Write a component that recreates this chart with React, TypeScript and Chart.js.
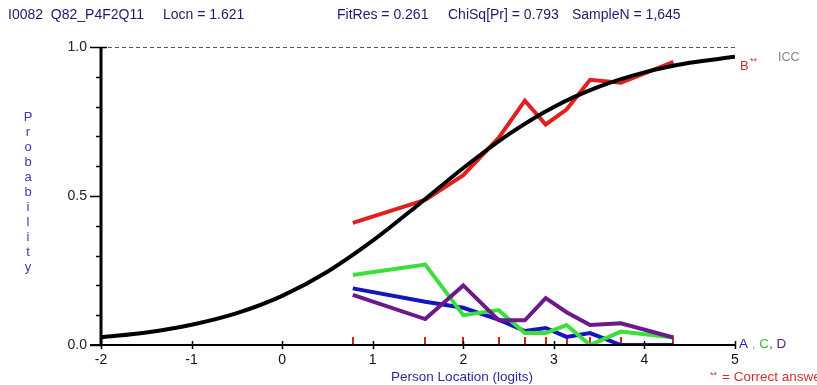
import React, { useEffect, useRef } from "react";
import { Chart, registerables } from "chart.js";

Chart.register(...registerables);

// Class interval mean locations (logits)
const classLocations = [0.78, 1.58, 2.0, 2.39, 2.68, 2.91, 3.14, 3.4, 3.74, 4.32];
// Observed proportions per option
const optionA = [0.19, 0.145, 0.125, 0.085, 0.047, 0.057, 0.027, 0.04, 0.0, 0.0];
const optionB = [0.41, 0.487, 0.57, 0.695, 0.82, 0.74, 0.79, 0.89, 0.88, 0.95];
const optionC = [0.235, 0.27, 0.1, 0.117, 0.04, 0.04, 0.067, 0.0, 0.045, 0.025];
const optionD = [0.168, 0.087, 0.2, 0.083, 0.083, 0.157, 0.11, 0.067, 0.073, 0.025];
// ICC
const iccLocations = [-2, -1.5, -1, -0.5, 0, 0.5, 1, 1.5, 2, 2.5, 3, 3.5, 4, 4.5, 5];
const iccValues = [0.026, 0.042, 0.068, 0.107, 0.165, 0.246, 0.35, 0.47, 0.594, 0.707, 0.799, 0.867, 0.915, 0.947, 0.967];
const xTickValues = [-2, -1, 0, 1, 2, 3, 4, 5];
const yLabelValues = [0, 0.5, 1];

const FONT = "'Liberation Sans', Arial, sans-serif";

function pts(xs: number[], ys: number[]) {
  return xs.map((x, i) => ({ x, y: ys[i] }));
}

const overlay = {
  id: "overlay",
  beforeDatasetsDraw(chart: any) {
    const { ctx, chartArea } = chart;
    const xs = chart.scales.x;
    const ys = chart.scales.y;
    ctx.save();
    // dashed line at 1.0
    ctx.strokeStyle = "#555";
    ctx.lineWidth = 1;
    ctx.setLineDash([4, 3]);
    ctx.beginPath();
    const y1 = ys.getPixelForValue(1);
    ctx.moveTo(chartArea.left, y1 + 0.5);
    ctx.lineTo(xs.getPixelForValue(5), y1 + 0.5);
    ctx.stroke();
    ctx.setLineDash([]);
    // red class ticks
    ctx.strokeStyle = "#d02020";
    ctx.lineWidth = 2;
    const y0 = ys.getPixelForValue(0);
    classLocations.forEach((v) => {
      const px = Math.round(xs.getPixelForValue(v));
      ctx.beginPath();
      ctx.moveTo(px, y0 - 8);
      ctx.lineTo(px, y0);
      ctx.stroke();
    });
    ctx.restore();
  },
  afterDraw(chart: any) {
    const { ctx, chartArea } = chart;
    const xs = chart.scales.x;
    const ys = chart.scales.y;
    ctx.save();
    const y0 = ys.getPixelForValue(0);
    const y1 = ys.getPixelForValue(1);
    // axes
    ctx.strokeStyle = "#000";
    ctx.lineWidth = 3;
    ctx.beginPath();
    ctx.moveTo(chartArea.left, y1);
    ctx.lineTo(chartArea.left, y0);
    ctx.stroke();
    ctx.lineWidth = 2;
    ctx.beginPath();
    ctx.moveTo(chartArea.left - 11, y0);
    ctx.lineTo(xs.getPixelForValue(5), y0);
    ctx.stroke();
    // y ticks
    ctx.lineWidth = 1.5;
    for (let i = 0; i <= 10; i++) {
      const v = i / 10;
      const py = Math.round(ys.getPixelForValue(v)) + 0.5;
      const major = i % 5 === 0;
      ctx.beginPath();
      ctx.moveTo(chartArea.left - (major ? 11 : 5), py);
      ctx.lineTo(chartArea.left + (i === 10 ? 6 : 0), py);
      ctx.stroke();
    }
    // x ticks crossing axis
    xTickValues.forEach((v) => {
      const px = Math.round(xs.getPixelForValue(v)) + 0.5;
      ctx.beginPath();
      ctx.moveTo(px, y0 - 4);
      ctx.lineTo(px, y0 + 4);
      ctx.stroke();
    });
    // header
    ctx.textBaseline = "middle";
    ctx.textAlign = "left";
    ctx.font = `14px ${FONT}`;
    ctx.fillStyle = "#1c1c6a";
    ctx.fillText("I0082  Q82_P4F2Q11", 8, 15);
    ctx.fillText("Locn = 1.621", 163, 15);
    ctx.fillText("FitRes = 0.261", 337, 15);
    ctx.fillText("ChiSq[Pr] = 0.793", 448, 15);
    ctx.fillText("SampleN = 1,645", 572, 15);
    // vertical Probability
    ctx.fillStyle = "#3a3ab8";
    ctx.textAlign = "center";
    ctx.font = `13px ${FONT}`;
    const letters = "Probability".split("");
    letters.forEach((ch, i) => {
      ctx.fillText(ch, 28, 117 + i * 15);
    });
    // x title
    ctx.fillStyle = "#2a2aa0";
    ctx.font = `13.5px ${FONT}`;
    ctx.fillText("Person Location (logits)", 462, 377);
    // legend
    ctx.textAlign = "left";
    ctx.font = `13px ${FONT}`;
    ctx.fillStyle = "#c83030";
    ctx.fillText("B", 740, 66);
    ctx.font = `9px ${FONT}`;
    ctx.fillText("**", 750, 62);
    ctx.font = `12.5px ${FONT}`;
    ctx.fillStyle = "#888";
    ctx.fillText("ICC", 778, 58);
    ctx.font = `13.5px ${FONT}`;
    let lx = 739;
    const parts: [string, string][] = [
      ["A", "#2020b0"],
      [" , ", "#aaa"],
      ["C", "#30c030"],
      [", ", "#555"],
      ["D", "#602080"],
    ];
    parts.forEach(([t, c]) => {
      ctx.fillStyle = c;
      ctx.fillText(t, lx, 344);
      lx += ctx.measureText(t).width;
    });
    ctx.fillStyle = "#d03030";
    ctx.font = `9px ${FONT}`;
    ctx.fillText("**", 710, 376);
    ctx.font = `13.5px ${FONT}`;
    ctx.fillText("= Correct answer", 722, 377);
    ctx.restore();
  },
};

export default function App() {
  const ref = useRef<HTMLCanvasElement | null>(null);
  useEffect(() => {
    if (!ref.current) return;
    const lineDs = (label: string, data: any, color: string, order: number) => ({
      label,
      data,
      borderColor: color,
      backgroundColor: color,
      borderWidth: 4,
      pointRadius: 0,
      tension: 0,
      fill: false,
      order,
    });
    const chart = new Chart(ref.current, {
      type: "line",
      data: {
        datasets: [
          { ...lineDs("ICC", pts(iccLocations, iccValues), "#000000", 0), cubicInterpolationMode: "monotone" },
          lineDs("D", pts(classLocations, optionD), "#6a1a8a", 1),
          lineDs("C", pts(classLocations, optionC), "#3ae03a", 2),
          lineDs("A", pts(classLocations, optionA), "#1414c0", 3),
          lineDs("B", pts(classLocations, optionB), "#e02020", 4),
        ] as any,
      },
      options: {
        animation: false,
        responsive: false,
        layout: { padding: { top: 47, right: 82, left: 0, bottom: 0 } },
        plugins: { legend: { display: false }, tooltip: { enabled: false }, title: { display: false } },
        scales: {
          x: {
            type: "linear",
            min: -2,
            max: 5,
            afterFit: (s: any) => {
              s.height = 40;
            },
            afterBuildTicks: (s: any) => {
              s.ticks = xTickValues.map((v) => ({ value: v }));
            },
            grid: { display: false, drawTicks: false },
            border: { display: false },
            ticks: {
              padding: 7,
              color: "#111",
              font: { family: FONT, size: 14 },
              maxRotation: 0,
              autoSkip: false,
            },
          },
          y: {
            type: "linear",
            min: 0,
            max: 1,
            afterFit: (s: any) => {
              s.width = 101;
            },
            afterBuildTicks: (s: any) => {
              s.ticks = yLabelValues.map((v) => ({ value: v }));
            },
            grid: { display: false, drawTicks: false },
            border: { display: false },
            ticks: {
              padding: 14,
              color: "#222",
              font: { family: FONT, size: 14 },
              callback: (v: any) => Number(v).toFixed(1),
            },
          },
        },
      },
      plugins: [overlay],
    });
    return () => chart.destroy();
  }, []);
  return (
    <div style={{ position: "absolute", left: 0, top: 0, width: 817, height: 385, background: "#fff" }}>
      <canvas ref={ref} width={817} height={385} style={{ width: 817, height: 385, display: "block" }} />
    </div>
  );
}
